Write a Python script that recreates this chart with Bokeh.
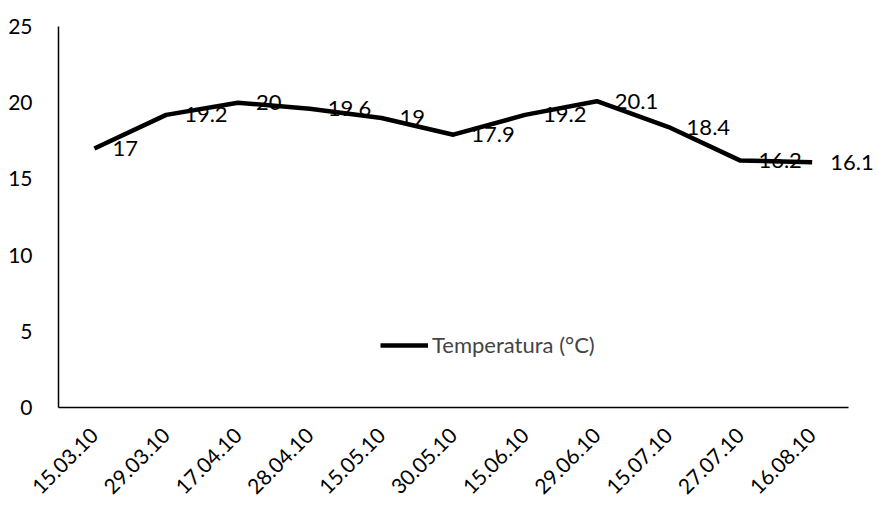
from bokeh.plotting import figure
from bokeh.models import ColumnDataSource, LabelSet, Range1d, Legend, LegendItem, FixedTicker
from bokeh.core.properties import value
from bokeh.embed import file_html
from bokeh.resources import INLINE
import math

dates = ["15.03.10", "29.03.10", "17.04.10", "28.04.10", "15.05.10", "30.05.10",
         "15.06.10", "29.06.10", "15.07.10", "27.07.10", "16.08.10"]
temps = [17, 19.2, 20, 19.6, 19, 17.9, 19.2, 20.1, 18.4, 16.2, 16.1]
label_texts = [str(t) for t in temps]
y_ticks = [0, 5, 10, 15, 20, 25]
series_name = "Temperatura (°C)"

FONT = "Lato"

idx = list(range(len(dates)))
src = ColumnDataSource(dict(x=idx, y=temps, t=label_texts))

n = len(dates)
p = figure(width=877, height=515, x_range=Range1d(-0.5, n - 0.5 + 0.41), y_range=Range1d(0, 25),
           output_backend="svg", toolbar_location=None,
           min_border_left=58, min_border_right=0, min_border_top=26, min_border_bottom=108)
p.outline_line_color = None
p.xgrid.grid_line_color = None
p.ygrid.grid_line_color = None
p.background_fill_color = "white"
p.border_fill_color = "white"

r = p.line("x", "y", source=src, line_color="black", line_width=4.5, line_join="round")

labels = LabelSet(x="x", y="y", text="t", source=src, x_offset=18, y_offset=0,
                  text_align="left", text_baseline="middle", text_font=value(FONT),
                  text_font_size="22px", text_color="black")
p.add_layout(labels)

# axes
for ax in (p.xaxis[0], p.yaxis[0]):
    ax.axis_line_color = "black"
    ax.axis_line_width = 1.5
    ax.major_tick_line_color = None
    ax.minor_tick_line_color = None
    ax.major_label_text_font = FONT
    ax.major_label_text_color = "black"
p.xaxis.bounds = (-0.5, n - 0.5)
p.xaxis.ticker = FixedTicker(ticks=idx)
p.xaxis.major_label_overrides = {i: d for i, d in zip(idx, dates)}
p.yaxis.ticker = FixedTicker(ticks=y_ticks)
p.yaxis.major_label_text_font_size = "21px"
p.yaxis.major_label_standoff = 20
p.xaxis.major_label_text_font_size = "21px"
p.xaxis.major_label_orientation = math.pi / 4
p.xaxis.major_label_standoff = 18

legend = Legend(items=[LegendItem(label=series_name, renderers=[r])],
                location=(322, 49), padding=0, margin=0, spacing=0,
                glyph_width=48, glyph_height=22, label_standoff=4,
                label_text_font=FONT, label_text_font_size="22px",
                border_line_color=None, background_fill_alpha=0)
p.add_layout(legend)

open("out.html", "w").write(file_html(p, INLINE))
